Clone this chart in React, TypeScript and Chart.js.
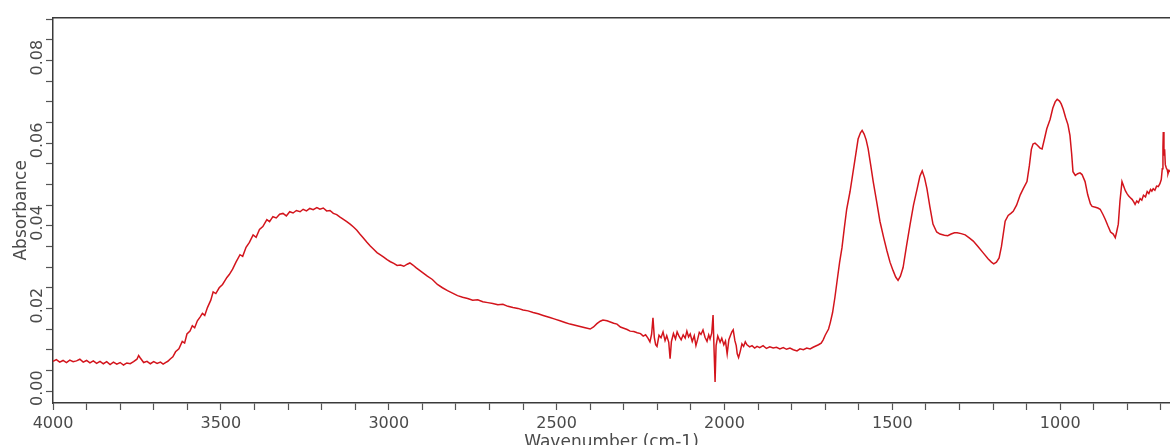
import React, { useEffect, useRef } from "react";
import { Chart, registerables } from "chart.js";

Chart.register(...registerables);

const wavenumbers: number[] = [
  4000, 3990, 3980, 3970, 3960, 3950, 3940, 3930, 3920, 3910, 3900, 3890, 3880, 3870, 3860, 3850, 3840, 3830, 3820, 3810,
  3800, 3790, 3780, 3770, 3760, 3750, 3745, 3740, 3730, 3720, 3710, 3700, 3690, 3680, 3672, 3665, 3658, 3650,
  3643, 3635, 3625, 3615, 3608, 3601, 3592, 3585, 3578, 3570, 3562, 3555, 3548, 3540, 3530, 3523, 3515, 3505, 3495, 3482,
  3475, 3465, 3455, 3443, 3435, 3425, 3415, 3404, 3395, 3385, 3375, 3363, 3355, 3345, 3335, 3325, 3315, 3305, 3295, 3285,
  3275, 3264, 3255, 3245, 3235, 3225, 3214, 3205, 3195, 3185, 3175, 3165, 3155, 3145, 3136, 3125, 3115, 3105, 3095, 3086,
  3075, 3065, 3055, 3045, 3035, 3026, 3015, 3005, 2995, 2985, 2975, 2965, 2955, 2945, 2937, 2928, 2918, 2908, 2898, 2885,
  2870, 2855, 2840, 2825, 2810, 2795, 2780, 2765, 2750, 2735, 2720, 2705, 2690, 2675, 2660, 2645, 2630, 2615, 2600, 2585,
  2570, 2555, 2540, 2520, 2505, 2490, 2475, 2460, 2445, 2430, 2415, 2400, 2390, 2380, 2370, 2362, 2350, 2340, 2330, 2320,
  2310, 2300, 2290, 2281, 2270, 2260, 2250, 2242, 2235, 2228, 2222, 2217, 2213, 2209, 2205, 2201, 2195, 2189, 2183, 2177,
  2172, 2166, 2162, 2158, 2152, 2146, 2141, 2135, 2129, 2123, 2117, 2112, 2107, 2102, 2096, 2090, 2085, 2080, 2075, 2070,
  2064, 2058, 2052, 2047, 2043, 2038, 2034, 2031, 2028, 2025, 2020, 2013, 2008, 2002, 1997, 1992, 1987, 1982, 1978, 1974,
  1969, 1965, 1962, 1958, 1953, 1948, 1943, 1938, 1933, 1925, 1918, 1910, 1903, 1895, 1885, 1875, 1865, 1855, 1845, 1835,
  1825, 1815, 1805, 1795, 1784, 1775, 1765, 1755, 1745, 1736, 1728, 1720, 1712, 1706, 1700, 1690, 1685, 1678, 1671, 1664,
  1657, 1650, 1643, 1636, 1626, 1618, 1611, 1602, 1595, 1590, 1584, 1578, 1572, 1565, 1557, 1547, 1537, 1526, 1516, 1507,
  1498, 1490, 1483, 1476, 1468, 1458, 1447, 1437, 1426, 1418, 1411, 1404, 1397, 1388, 1379, 1368, 1358, 1345, 1335, 1325,
  1315, 1307, 1295, 1283, 1270, 1259, 1245, 1230, 1215, 1205, 1198, 1190, 1182, 1175, 1164, 1155, 1147, 1140, 1130, 1119,
  1110, 1099, 1092, 1086, 1081, 1075, 1068, 1060, 1054, 1047, 1040, 1030, 1022, 1015, 1009, 1002, 997, 991, 984, 977,
  971, 966, 962, 955, 948, 941, 935, 926, 918, 910, 905, 895, 888, 881, 873, 866, 858, 850, 842, 836,
  832, 827, 822, 816, 812, 806, 801, 796, 791, 786, 781, 777, 772, 767, 762, 757, 752, 746, 741, 736,
  731, 727, 723, 718, 713, 708, 703, 699, 696, 694, 693, 691, 689, 687, 684, 681, 679, 676, 673,
];

const absorbance: number[] = [
  0.0022, 0.0026, 0.0020, 0.0024, 0.0019, 0.0025, 0.0021, 0.0023, 0.0027, 0.0020, 0.0024, 0.0018, 0.0023, 0.0017, 0.0022, 0.0016, 0.0021, 0.0014, 0.0020, 0.0015,
  0.0019, 0.0013, 0.0018, 0.0016, 0.0021, 0.0027, 0.0036, 0.0030, 0.0019, 0.0022, 0.0016, 0.0021, 0.0017, 0.0020, 0.0015, 0.0019, 0.0022, 0.0028,
  0.0033, 0.0045, 0.0052, 0.0070, 0.0066, 0.0088, 0.0095, 0.0108, 0.0103, 0.0120, 0.0129, 0.0138, 0.0133, 0.0152, 0.0170, 0.0190, 0.0186, 0.0200, 0.0208, 0.0225,
  0.0232, 0.0245, 0.0262, 0.0280, 0.0276, 0.0298, 0.0310, 0.0328, 0.0322, 0.0341, 0.0348, 0.0365, 0.0360, 0.0372, 0.0369, 0.0378, 0.0380, 0.0374, 0.0384, 0.0381,
  0.0387, 0.0384, 0.0390, 0.0386, 0.0392, 0.0389, 0.0394, 0.0390, 0.0393, 0.0386, 0.0387, 0.0380, 0.0377, 0.0371, 0.0366, 0.0360, 0.0354, 0.0347, 0.0339, 0.0330,
  0.0320, 0.0310, 0.0301, 0.0293, 0.0285, 0.0280, 0.0274, 0.0268, 0.0263, 0.0259, 0.0254, 0.0255, 0.0252, 0.0257, 0.0260, 0.0255, 0.0248, 0.0242, 0.0236, 0.0228,
  0.0220, 0.0208, 0.0200, 0.0193, 0.0187, 0.0181, 0.0177, 0.0174, 0.0170, 0.0171, 0.0166, 0.0164, 0.0162, 0.0159, 0.0160, 0.0155, 0.0152, 0.0150, 0.0146, 0.0144,
  0.0140, 0.0137, 0.0133, 0.0128, 0.0124, 0.0120, 0.0116, 0.0112, 0.0109, 0.0106, 0.0103, 0.0100, 0.0105, 0.0113, 0.0119, 0.0122, 0.0120, 0.0117, 0.0114, 0.0112,
  0.0105, 0.0102, 0.0099, 0.0095, 0.0094, 0.0091, 0.0089, 0.0083, 0.0086, 0.0078, 0.0069, 0.0088, 0.0127, 0.0080, 0.0062, 0.0058, 0.0085, 0.0079, 0.0093, 0.0072,
  0.0084, 0.0068, 0.0028, 0.0070, 0.0089, 0.0076, 0.0093, 0.0082, 0.0074, 0.0086, 0.0078, 0.0095, 0.0081, 0.0088, 0.0070, 0.0084, 0.0060, 0.0075, 0.0092, 0.0087,
  0.0098, 0.0080, 0.0070, 0.0086, 0.0076, 0.0090, 0.0134, 0.0050, -0.0028, 0.0060, 0.0083, 0.0068, 0.0078, 0.0062, 0.0071, 0.0040, 0.0074, 0.0085, 0.0093, 0.0098,
  0.0072, 0.0060, 0.0040, 0.0031, 0.0046, 0.0064, 0.0058, 0.0069, 0.0062, 0.0057, 0.0060, 0.0054, 0.0058, 0.0055, 0.0060, 0.0053, 0.0057, 0.0054, 0.0056, 0.0052,
  0.0055, 0.0051, 0.0054, 0.0050, 0.0047, 0.0052, 0.0050, 0.0054, 0.0052, 0.0056, 0.0059, 0.0062, 0.0066, 0.0074, 0.0085, 0.0100, 0.0115, 0.0140, 0.0177, 0.0220,
  0.0262, 0.0297, 0.0345, 0.0390, 0.0433, 0.0475, 0.0512, 0.0560, 0.0575, 0.0581, 0.0572, 0.0558, 0.0536, 0.0500, 0.0457, 0.0410, 0.0361, 0.0322, 0.0289, 0.0262,
  0.0242, 0.0226, 0.0218, 0.0228, 0.0249, 0.0300, 0.0354, 0.0400, 0.0440, 0.0470, 0.0483, 0.0466, 0.0440, 0.0395, 0.0354, 0.0335, 0.0330, 0.0327, 0.0326, 0.0330,
  0.0333, 0.0333, 0.0331, 0.0328, 0.0320, 0.0313, 0.0300, 0.0285, 0.0270, 0.0262, 0.0258, 0.0262, 0.0272, 0.0300, 0.0361, 0.0375, 0.0380, 0.0385, 0.0400, 0.0425,
  0.0440, 0.0457, 0.0495, 0.0535, 0.0548, 0.0550, 0.0545, 0.0538, 0.0536, 0.0560, 0.0585, 0.0608, 0.0635, 0.0650, 0.0656, 0.0652, 0.0645, 0.0632, 0.0612, 0.0595,
  0.0569, 0.0525, 0.0481, 0.0472, 0.0476, 0.0478, 0.0474, 0.0457, 0.0425, 0.0403, 0.0397, 0.0395, 0.0393, 0.0390, 0.0378, 0.0366, 0.0350, 0.0335, 0.0330, 0.0321,
  0.0335, 0.0354, 0.0410, 0.0457, 0.0448, 0.0435, 0.0428, 0.0422, 0.0418, 0.0414, 0.0408, 0.0402, 0.0410, 0.0406, 0.0416, 0.0412, 0.0424, 0.0420, 0.0433, 0.0428,
  0.0438, 0.0434, 0.0440, 0.0436, 0.0446, 0.0445, 0.0452, 0.0462, 0.0488, 0.0540, 0.0577, 0.0520, 0.0535, 0.0498, 0.0490, 0.0485, 0.0476, 0.0484, 0.0481,
];

const xLabelStep = 500;
const yLabelStep = 0.02;
const xTitle = "Wavenumber (cm-1)";
const yTitle = "Absorbance";

export default function App() {
  const canvasRef = useRef<HTMLCanvasElement | null>(null);

  useEffect(() => {
    document.body.style.margin = "0";
    document.body.style.overflow = "hidden";
    const canvas = canvasRef.current;
    if (!canvas) return;
    const points = wavenumbers.map((w, i) => ({ x: w, y: absorbance[i] }));
    const textColor = "#4a4a4a";
    const axisColor = "#3a3a3a";
    const chart = new Chart(canvas, {
      type: "line",
      data: {
        datasets: [
          {
            data: points,
            borderColor: "#d3141c",
            borderWidth: 1.5,
            pointRadius: 0,
            tension: 0,
            fill: false,
          },
        ],
      },
      options: {
        animation: false,
        responsive: true,
        maintainAspectRatio: false,
        parsing: false as any,
        layout: { padding: { left: 0, right: 0, top: 0, bottom: 0 } },
        plugins: { legend: { display: false }, tooltip: { enabled: false } },
        scales: {
          x: {
            type: "linear",
            position: "bottom",
            reverse: true,
            min: 673,
            max: 4000,
            afterFit: (s: any) => {
              s.height = 42;
            },
            border: { display: true, color: axisColor, width: 1.5 },
            grid: {
              display: true,
              drawOnChartArea: false,
              drawTicks: true,
              tickLength: 7,
              tickColor: "#555",
              tickWidth: 1.2,
            },
            ticks: {
              stepSize: 100,
              includeBounds: false,
              autoSkip: false,
              maxRotation: 0,
              minRotation: 0,
              padding: 4,
              color: textColor,
              font: { family: "DejaVu Sans", size: 16 },
              callback: (v: any) => (Math.round(v) % xLabelStep === 0 ? String(Math.round(v)) : ""),
            },
            title: {
              display: true,
              text: xTitle,
              color: textColor,
              font: { family: "DejaVu Sans", size: 17 },
              padding: { top: 0, bottom: -8 },
            },
          },
          x2: {
            type: "linear",
            position: "top",
            min: 0,
            max: 1,
            afterFit: (s: any) => {
              s.height = 14;
            },
            border: { display: true, color: axisColor, width: 1.5 },
            grid: { display: false, drawOnChartArea: false, drawTicks: false },
            ticks: { display: false },
          },
          y: {
            type: "linear",
            position: "left",
            min: -0.0079,
            max: 0.0854,
            afterFit: (s: any) => {
              s.width = 53;
            },
            border: { display: true, color: axisColor, width: 1.5 },
            grid: {
              display: true,
              drawOnChartArea: false,
              drawTicks: true,
              tickLength: 7,
              tickColor: "#555",
              tickWidth: 1.2,
            },
            ticks: {
              stepSize: 0.005,
              includeBounds: false,
              autoSkip: false,
              minRotation: 90,
              maxRotation: 90,
              padding: 8,
              color: textColor,
              font: { family: "DejaVu Sans", size: 16 },
              callback: (v: any) => {
                const r = Math.round(v * 10000) / 10000;
                const q = r / yLabelStep;
                return Math.abs(q - Math.round(q)) < 1e-6 ? r.toFixed(2) : "";
              },
            },
            title: {
              display: true,
              text: yTitle,
              color: textColor,
              font: { family: "DejaVu Sans", size: 17 },
              padding: { top: 11, bottom: 0 },
            },
          },
        },
      } as any,
    });
    return () => chart.destroy();
  }, []);

  return (
    <div style={{ position: "relative", width: "1170px", height: "445px", background: "#fff" }}>
      <canvas ref={canvasRef} />
    </div>
  );
}
